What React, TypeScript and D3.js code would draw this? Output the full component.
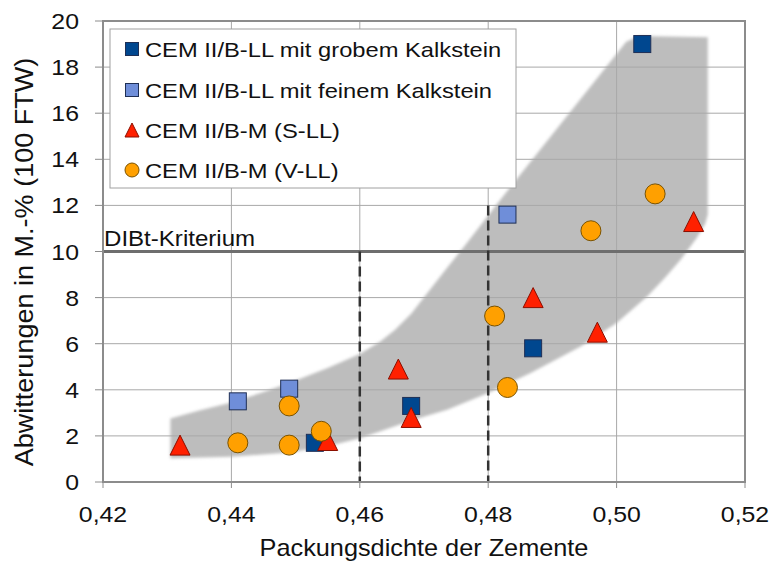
import React from "react";
import * as d3 from "d3";

const xTicks = [0.42, 0.44, 0.46, 0.48, 0.5, 0.52];
const yTicks = [0, 2, 4, 6, 8, 10, 12, 14, 16, 18, 20];

const seriesNames = [
  "CEM II/B-LL mit grobem Kalkstein",
  "CEM II/B-LL mit feinem Kalkstein",
  "CEM II/B-M (S-LL)",
  "CEM II/B-M (V-LL)",
];

const grobX = [0.504, 0.487, 0.468, 0.453];
const grobY = [19.0, 5.8, 3.3, 1.7];
const feinX = [0.483, 0.441, 0.449];
const feinY = [11.6, 3.5, 4.05];
const slX = [0.512, 0.487, 0.497, 0.466, 0.468, 0.432, 0.455];
const slY = [11.3, 8.0, 6.5, 4.9, 2.8, 1.6, 1.8];
const vlX = [0.506, 0.496, 0.481, 0.483, 0.449, 0.441, 0.449, 0.454];
const vlY = [12.5, 10.9, 7.2, 4.1, 3.3, 1.7, 1.6, 2.2];

// shaded band outline (upper edge left->right, then lower edge right->left)
const bandUpperX = [0.4305, 0.435, 0.44, 0.445, 0.449, 0.455, 0.46, 0.4632, 0.4655, 0.468, 0.4708, 0.4736, 0.4765, 0.479, 0.4819, 0.5015, 0.5035, 0.5142];
const bandUpperY = [2.75, 3.1, 3.45, 3.9, 4.3, 4.95, 5.55, 6.1, 6.6, 7.3, 8.3, 9.3, 10.3, 11.2, 12.25, 19.1, 19.35, 19.3];
const bandLowerX = [0.5142, 0.5138, 0.5125, 0.51, 0.5075, 0.5048, 0.5, 0.4944, 0.4866, 0.48, 0.4736, 0.4684, 0.4632, 0.46, 0.455, 0.449, 0.44, 0.4305];
const bandLowerY = [11.6, 11.2, 10.6, 9.65, 8.85, 8.06, 6.9, 5.88, 4.73, 3.86, 3.13, 2.7, 2.2, 1.9, 1.55, 1.28, 1.1, 1.03];

const dibtValue = 10;
const dashedX = [0.46, 0.48];
const dashedTop = [10, 12];

const W = 773;
const H = 567;
const FONT = "'Liberation Sans', Arial, Helvetica, sans-serif";

export default function App() {
  const x = d3.scaleLinear().domain([0.42, 0.52]).range([103, 745]);
  const y = d3.scaleLinear().domain([0, 20]).range([482, 21]);
  const fmt = (v: number) => d3.format(".2f")(v).replace(".", ",");

  const bandPts: [number, number][] = [
    ...bandUpperX.map((v, i) => [x(v), y(bandUpperY[i])] as [number, number]),
    ...bandLowerX.map((v, i) => [x(v), y(bandLowerY[i])] as [number, number]),
  ];
  const bandPath = d3.line().curve(d3.curveLinearClosed)(bandPts) || "";

  const cDark = "#00478f";
  const cLight = "#6f8ed9";
  const cRed = "#ff2000";
  const cOrange = "#ffa000";

  const sq = (cx: number, cy: number, s: number, fill: string, key: any) => (
    <rect key={key} x={cx - s / 2} y={cy - s / 2} width={s} height={s} fill={fill} stroke="#1f2f55" strokeWidth={1} />
  );
  const tri = (cx: number, cy: number, s: number, key: any) => (
    <path
      key={key}
      d={`M${cx},${cy - s / 2} L${cx + s / 2},${cy + s / 2} L${cx - s / 2},${cy + s / 2} Z`}
      fill={cRed}
      stroke="#8a0f00"
      strokeWidth={1}
    />
  );
  const circ = (cx: number, cy: number, r: number, key: any) => (
    <circle key={key} cx={cx} cy={cy} r={r} fill={cOrange} stroke="#7a5200" strokeWidth={1} />
  );

  const legendRows = [49, 90, 130, 170];

  return (
    <svg width={W} height={H} style={{ position: "absolute", left: 0, top: 0, background: "#fff" }} fontFamily={FONT}>
      <defs>
        <filter id="blur" x="-10%" y="-10%" width="120%" height="120%">
          <feGaussianBlur stdDeviation={1.6} />
        </filter>
      </defs>
      <rect width={W} height={H} fill="#fff" />
      {/* band */}
      <path d={bandPath} fill="#bdbdbd" filter="url(#blur)" />

      {/* gridlines */}
      {yTicks.filter((t) => t > 0 && t < 20).map((t) => (
        <line key={"gy" + t} x1={103} x2={745} y1={y(t)} y2={y(t)} stroke="#a8a8a8" strokeWidth={1} />
      ))}
      {xTicks.filter((t) => t > 0.42 && t < 0.52).map((t) => (
        <line key={"gx" + t} x1={x(t)} x2={x(t)} y1={y(0)} y2={y(20)} stroke="#a8a8a8" strokeWidth={1} />
      ))}

      {/* DIBt line */}
      <line x1={103} x2={745} y1={y(dibtValue)} y2={y(dibtValue)} stroke="#6e6e6e" strokeWidth={3} />
      <text
        transform={`translate(104,${y(dibtValue) - 6}) scale(1.12,1)`}
        fontSize={21.5}
        fill="#111"
      >
        DIBt-Kriterium
      </text>

      {/* dashed lines */}
      {dashedX.map((v, i) => (
        <line
          key={"d" + i}
          x1={x(v)}
          x2={x(v)}
          y1={y(dashedTop[i])}
          y2={y(0)}
          stroke="#333"
          strokeWidth={2.5}
          strokeDasharray="10,5"
        />
      ))}

      {/* frame */}
      <rect x={103} y={21} width={642} height={461} fill="none" stroke="#8c8c8c" strokeWidth={2} />
      {yTicks.map((t) => (
        <line key={"ty" + t} x1={95} x2={103} y1={y(t)} y2={y(t)} stroke="#8c8c8c" strokeWidth={1} />
      ))}
      {xTicks.map((t) => (
        <line key={"tx" + t} x1={x(t)} x2={x(t)} y1={482} y2={488} stroke="#8c8c8c" strokeWidth={1} />
      ))}

      {/* tick labels */}
      {yTicks.map((t) => (
        <text
          key={"ly" + t}
          transform={`translate(79,${y(t) + 8}) scale(1.13,1)`}
          textAnchor="end"
          fontSize={22}
          fill="#111"
        >
          {t}
        </text>
      ))}
      {xTicks.map((t) => (
        <text
          key={"lx" + t}
          transform={`translate(${x(t)},522) scale(1.13,1)`}
          textAnchor="middle"
          fontSize={22}
          fill="#111"
        >
          {fmt(t)}
        </text>
      ))}

      {/* axis titles */}
      <text transform={`translate(424,556) scale(1.1,1)`} textAnchor="middle" fontSize={23} fill="#111">
        Packungsdichte der Zemente
      </text>
      <text transform={`translate(33,262) rotate(-90) scale(1.04,1)`} textAnchor="middle" fontSize={26} fill="#111">
        Abwitterungen in M.-% (100 FTW)
      </text>

      {/* data */}
      {grobX.map((v, i) => sq(x(v), y(grobY[i]), 17, cDark, "g" + i))}
      {feinX.map((v, i) => sq(x(v), y(feinY[i]), 17, cLight, "f" + i))}
      {slX.map((v, i) => tri(x(v), y(slY[i]), 20, "s" + i))}
      {vlX.map((v, i) => circ(x(v), y(vlY[i]), 10, "v" + i))}

      {/* legend */}
      <rect x={110} y={29} width={406} height={159} fill="#fff" stroke="#a0a0a0" strokeWidth={1} />
      {sq(132, legendRows[0], 13, cDark, "lg0")}
      {sq(132, legendRows[1], 13, cLight, "lg1")}
      {tri(132, legendRows[2], 14, "lg2")}
      {circ(132, legendRows[3], 7, "lg3")}
      {seriesNames.map((n, i) => (
        <text
          key={"ln" + i}
          transform={`translate(145,${legendRows[i] + 7.5}) scale(1.13,1)`}
          fontSize={21}
          fill="#111"
        >
          {n}
        </text>
      ))}
    </svg>
  );
}
